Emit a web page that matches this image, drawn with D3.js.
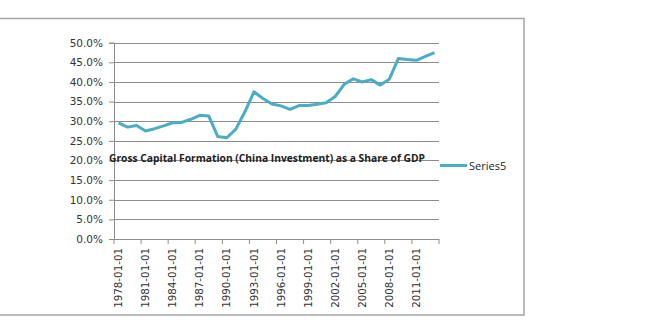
<!DOCTYPE html>
<html>
<head>
<meta charset="utf-8">
<script src="https://cdn.jsdelivr.net/npm/d3@7"></script>
<style>
  body { margin: 0; background: #fff; }
  svg { display: block; }
</style>
</head>
<body>
<svg id="chart" width="650" height="322"></svg>
<script>
// years on the category axis, one value per year (share of GDP)
var years = d3.range(1978, 2014).map(function (y) { return y + "-01-01"; });
var shares = [
  29.6, 28.5, 28.9, 27.5, 28.1, 28.8, 29.6, 29.7, 30.5, 31.5,
  31.3, 26.1, 25.8, 28.0, 32.4, 37.5, 35.8, 34.4, 33.9, 33.0,
  34.0, 34.0, 34.3, 34.7, 36.3, 39.4, 40.8, 40.0, 40.6, 39.2,
  40.7, 46.0, 45.7, 45.5, 46.5, 47.5
];
var yTicks = [0, 5, 10, 15, 20, 25, 30, 35, 40, 45, 50];
var titleText = "Gross Capital Formation (China Investment) as a Share of GDP";
var seriesName = "Series5";

var svg = d3.select("#chart");
var plotLeft = 114, plotRight = 439, plotTop = 42.7, plotBottom = 239;
var tickFont = "'DejaVu Sans', Verdana, sans-serif";

var x = d3.scaleBand().domain(years).range([plotLeft, plotRight]);
var y = d3.scaleLinear().domain([0, 50]).range([plotBottom, plotTop]);

// chart area border (right, top, bottom)
svg.append("path")
  .attr("d", "M0,18.5 H524 V315 H0")
  .attr("fill", "none")
  .attr("stroke", "#a6a6a6")
  .attr("stroke-width", 1.5);

// gridlines
svg.append("g").selectAll("line")
  .data(yTicks.slice(1))
  .enter().append("line")
  .attr("x1", plotLeft).attr("x2", plotRight)
  .attr("y1", function (d) { return Math.round(y(d)) + 0.5; })
  .attr("y2", function (d) { return Math.round(y(d)) + 0.5; })
  .attr("stroke", "#8c8c8c")
  .attr("stroke-width", 1);

// y axis
var yAxis = d3.axisLeft(y)
  .tickValues(yTicks)
  .tickSize(5)
  .tickPadding(6)
  .tickFormat(function (d) { return d.toFixed(1) + "%"; });

var gy = svg.append("g")
  .attr("transform", "translate(" + plotLeft + ",0)")
  .call(yAxis);
gy.select(".domain").attr("stroke", "#8c8c8c");
gy.selectAll(".tick line").attr("stroke", "#8c8c8c");
gy.selectAll(".tick text")
  .attr("fill", "#333")
  .style("font-family", tickFont)
  .style("font-size", "10.5px");

// x axis: ticks every 3 categories, at category boundaries
var labelYears = years.filter(function (d, i) { return i % 3 === 0; });
var gx = svg.append("g").attr("transform", "translate(0," + plotBottom + ")");
gx.append("line")
  .attr("x1", plotLeft).attr("x2", plotRight)
  .attr("y1", 0.5).attr("y2", 0.5)
  .attr("stroke", "#8c8c8c");
gx.selectAll(".tk")
  .data(labelYears.concat(["end"]))
  .enter().append("line")
  .attr("class", "tk")
  .attr("x1", function (d) { return d === "end" ? plotRight : x(d); })
  .attr("x2", function (d) { return d === "end" ? plotRight : x(d); })
  .attr("y1", 0).attr("y2", 5)
  .attr("stroke", "#8c8c8c");
gx.selectAll("text")
  .data(labelYears)
  .enter().append("text")
  .attr("transform", function (d) {
    return "translate(" + (x(d) + x.bandwidth() / 2) + ",9) rotate(-90)";
  })
  .attr("text-anchor", "end")
  .attr("dy", "0.35em")
  .attr("fill", "#333")
  .style("font-family", tickFont)
  .style("font-size", "10.3px")
  .text(function (d) { return d; });

// series line
var line = d3.line()
  .x(function (d, i) { return x(years[i]) + x.bandwidth() / 2; })
  .y(function (d) { return y(d); });

svg.append("path")
  .datum(shares)
  .attr("d", line)
  .attr("fill", "none")
  .attr("stroke", "#4bacc6")
  .attr("stroke-width", 3)
  .attr("stroke-linejoin", "round");

// title (sits over the 20% gridline, as in the original)
svg.append("text")
  .attr("x", 109)
  .attr("y", 162)
  .attr("textLength", 316)
  .attr("lengthAdjust", "spacingAndGlyphs")
  .attr("fill", "#222")
  .style("font-family", "'Open Sans', sans-serif")
  .style("font-weight", "bold")
  .style("font-size", "11px")
  .text(titleText);

// legend
svg.append("line")
  .attr("x1", 440).attr("x2", 467)
  .attr("y1", 165.5).attr("y2", 165.5)
  .attr("stroke", "#4bacc6")
  .attr("stroke-width", 3);
svg.append("text")
  .attr("x", 469)
  .attr("y", 169.5)
  .attr("fill", "#222")
  .style("font-family", "'Open Sans', sans-serif")
  .style("font-size", "11px")
  .text(seriesName);
</script>
</body>
</html>
